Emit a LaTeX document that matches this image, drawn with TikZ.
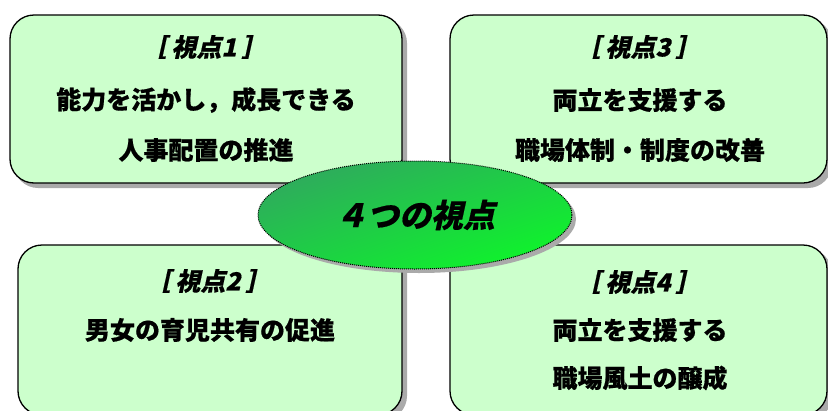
\documentclass[tikz,border=0pt]{standalone}
\usepackage{fontspec}
\newfontfamily\jp{Noto Sans CJK JP}[BoldFeatures={FakeBold=0.5}]
\newfontfamily\jpi{Noto Sans CJK JP}[FakeSlant=0.22,BoldFeatures={FakeBold=0.5}]
\usetikzlibrary{shapes.geometric,shadings}
\definecolor{boxfill}{RGB}{204,255,204}
\definecolor{shadowgray}{RGB}{170,170,170}
\definecolor{gTL}{RGB}{52,160,100}
\definecolor{gMid}{RGB}{30,205,70}
\definecolor{gBR}{RGB}{10,255,35}
\newcommand{\hdr}[1]{［\hspace{5pt}#1\hspace{5pt}］}
\tikzset{
  viewbox/.style={draw=black, line width=1.3pt, fill=boxfill, rounded corners=24pt, inner sep=0pt},
  headtxt/.style={font=\jpi\bfseries\fontsize{25}{28}\selectfont, inner sep=0pt},
  bodytxt/.style={font=\jp\bfseries\fontsize{25}{30}\selectfont, inner sep=0pt},
  centertxt/.style={font=\jpi\bfseries\fontsize{32}{36}\selectfont, inner sep=0pt}
}
\begin{document}
\begin{tikzpicture}[x=1pt,y=-1pt]
\useasboundingbox (0,0) rectangle (828,410);
\clip (0,0) rectangle (828,410);
% shadows
\fill[shadowgray, rounded corners=24pt] (14,19) rectangle (407,188);
\fill[shadowgray, rounded corners=24pt] (454,19) rectangle (832,188);
\fill[shadowgray, rounded corners=24pt] (22,249) rectangle (407,420);
\fill[shadowgray, rounded corners=24pt] (454,249) rectangle (832,420);
% boxes
\node[viewbox, minimum width=392pt, minimum height=168pt] (b1) at (206,99) {};
\node[viewbox, minimum width=377pt, minimum height=168pt] (b3) at (638.5,99) {};
\node[viewbox, minimum width=384pt, minimum height=170pt] (b2) at (210,330) {};
\node[viewbox, minimum width=377pt, minimum height=170pt] (b4) at (638.5,330) {};
% texts
\node[headtxt] (h1) at (204,47) {\hdr{視点1}};
\node[bodytxt] (t1a) at (206,100) {能力を活かし，成長できる};
\node[bodytxt] (t1b) at (206,150) {人事配置の推進};
\node[headtxt] (h3) at (638,47) {\hdr{視点3}};
\node[bodytxt] (t3a) at (640,100) {両立を支援する};
\node[bodytxt] (t3b) at (640,150) {職場体制・制度の改善};
\node[headtxt] (h2) at (208,281) {\hdr{視点2}};
\node[bodytxt] (t2a) at (210,330) {男女の育児共有の促進};
\node[headtxt] (h4) at (638,282) {\hdr{視点4}};
\node[bodytxt] (t4a) at (640,330) {両立を支援する};
\node[bodytxt] (t4b) at (640,378) {職場風土の醸成};
% center ellipse
\fill[shadowgray] (419,219) ellipse [x radius=157pt, y radius=54pt];
\shade[upper left=gTL, upper right=gMid, lower left=gMid, lower right=gBR]
  (415,215) ellipse [x radius=157pt, y radius=54pt];
\draw[black, line width=1pt, densely dotted] (415,215) ellipse [x radius=157pt, y radius=54pt];
\node[centertxt] (c) at (415,215) {４つの視点};
\end{tikzpicture}
\end{document}
